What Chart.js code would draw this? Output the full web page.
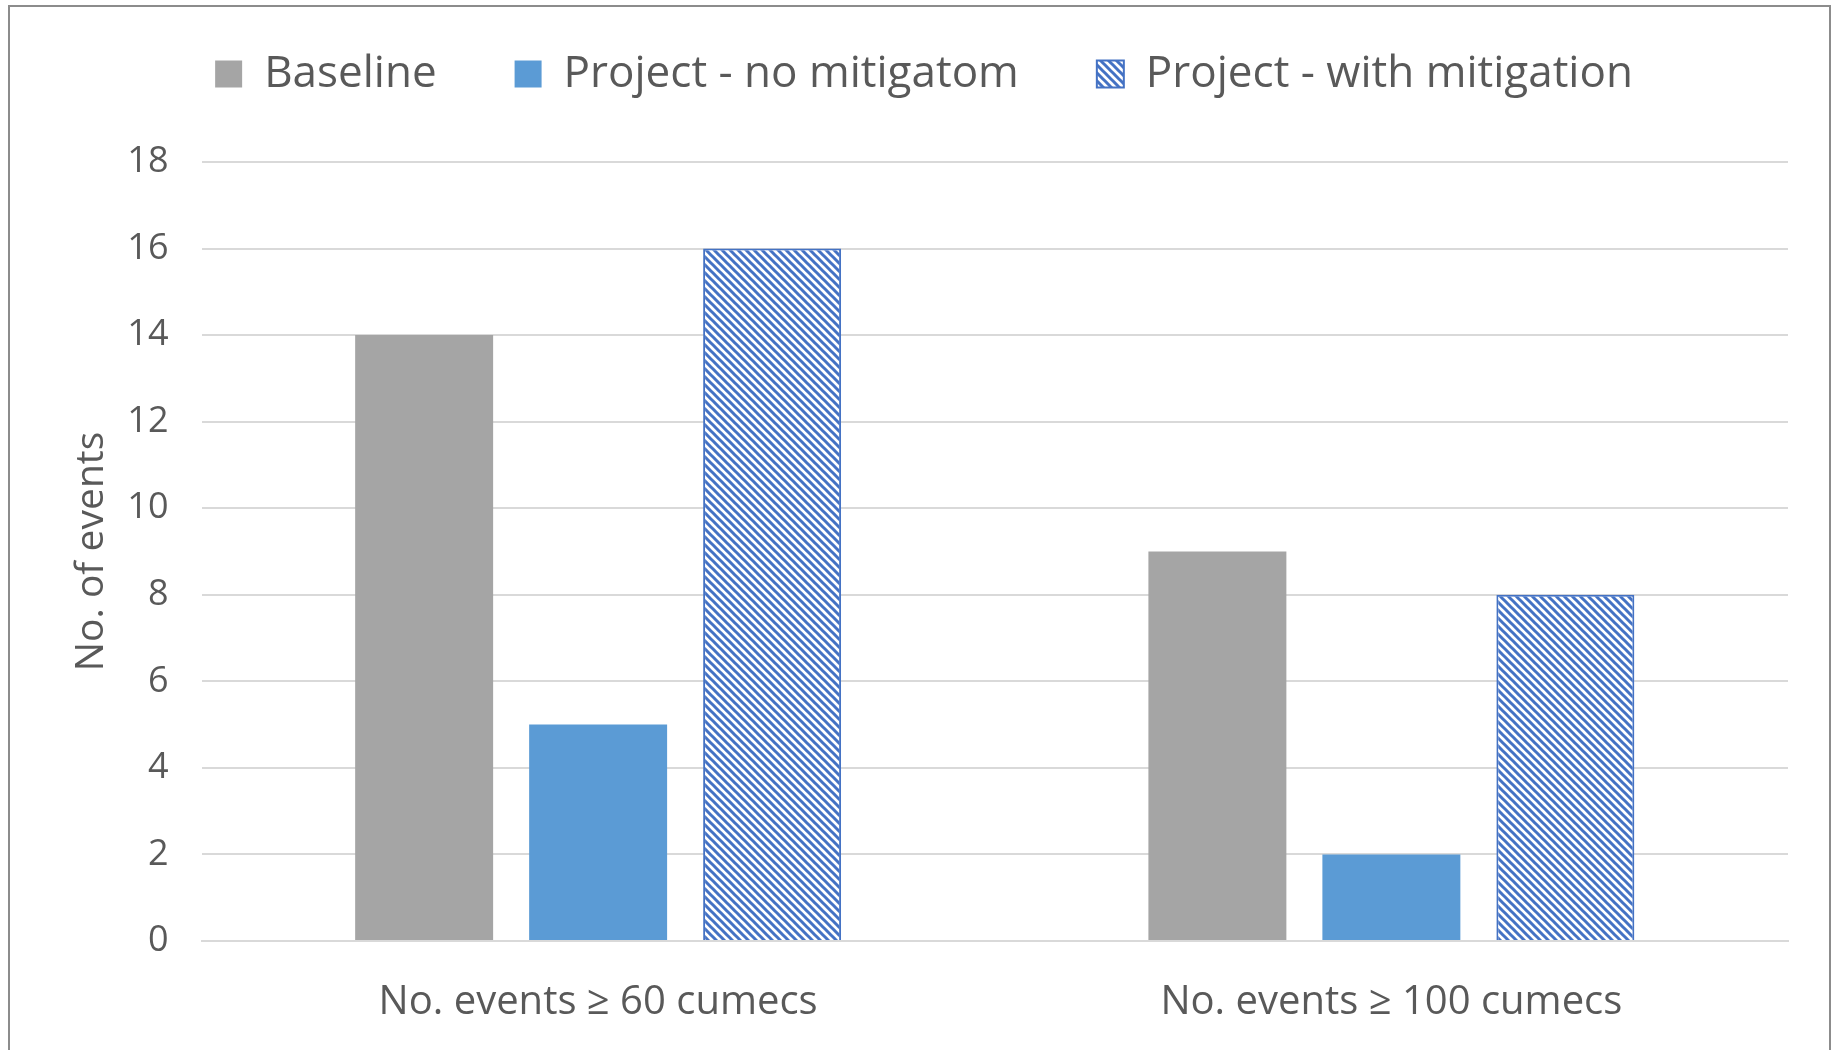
<!DOCTYPE html>
<html>
<head>
<meta charset="utf-8">
<script src="https://cdn.jsdelivr.net/npm/chart.js@4/dist/chart.umd.min.js"></script>
<style>
  html, body { margin: 0; padding: 0; background: #ffffff; }
  body { width: 1837px; height: 1050px; position: relative; overflow: hidden; }
  #frame { position: absolute; left: 8px; top: 5px; width: 1823px; height: 1100px; border: 2px solid #8c8c8c; box-sizing: border-box; }
  #chart { position: absolute; left: 0; top: 0; }
</style>
</head>
<body>
<div id="frame"></div>
<canvas id="chart" width="1837" height="1050"></canvas>
<script>
// Flood event counts per threshold
const categories = ['No. events \u2265 60 cumecs', 'No. events \u2265 100 cumecs'];
const seriesNames = ['Baseline', 'Project - no mitigatom', 'Project - with mitigation'];
const baseline = [14, 9];
const projectNoMitigation = [5, 2];
const projectWithMitigation = [16, 8];
const yTicks = [0, 2, 4, 6, 8, 10, 12, 14, 16, 18];

const textColor = '#595959';
const fontFamily = "'Open Sans', 'Liberation Sans', sans-serif";

// Wide downward diagonal hatch for the mitigation series
function makeHatch() {
  const s = 8;
  const c = document.createElement('canvas');
  c.width = s; c.height = s;
  const g = c.getContext('2d');
  g.fillStyle = '#ffffff';
  g.fillRect(0, 0, s, s);
  g.strokeStyle = '#4472C4';
  g.lineWidth = 3;
  g.beginPath();
  g.moveTo(-2, -2); g.lineTo(s + 2, s + 2);
  g.moveTo(-2 - s, -2); g.lineTo(2, s + 2);
  g.moveTo(s - 2, -2); g.lineTo(2 * s + 2, s + 2);
  g.stroke();
  return g.createPattern(c, 'repeat');
}

// Leaves extra room between the legend row and the plot area
const legendGap = {
  id: 'legendGap',
  beforeUpdate(chart) {
    const lg = chart.legend;
    if (!lg || lg._gapPatched) return;
    const fit = lg.fit;
    lg.fit = function () { fit.call(this); this.height += 56; };
    lg._gapPatched = true;
  }
};

const ctx = document.getElementById('chart').getContext('2d');
const hatch = makeHatch();

new Chart(ctx, {
  type: 'bar',
  data: {
    labels: categories,
    datasets: [
      { label: seriesNames[0], data: baseline, backgroundColor: '#A5A5A5', borderWidth: 0 },
      { label: seriesNames[1], data: projectNoMitigation, backgroundColor: '#5B9BD5', borderWidth: 0 },
      { label: seriesNames[2], data: projectWithMitigation, backgroundColor: hatch, borderColor: '#4472C4', borderWidth: 2 }
    ]
  },
  plugins: [legendGap],
  options: {
    responsive: false,
    animation: false,
    devicePixelRatio: 1,
    layout: { padding: { left: 60, right: 49, top: -26, bottom: 23 } },
    datasets: { bar: { categoryPercentage: 0.658, barPercentage: 0.793 } },
    plugins: {
      legend: {
        position: 'top',
        align: 'center',
        labels: {
          color: textColor,
          font: { family: fontFamily, size: 44 },
          boxWidth: 27,
          boxHeight: 27,
          padding: 78
        }
      },
      tooltip: { enabled: false }
    },
    scales: {
      x: {
        afterFit: (axis) => { axis.height = 86; },
        grid: { display: false, drawTicks: false },
        border: { display: true, color: '#D9D9D9', width: 2 },
        ticks: { color: textColor, font: { family: fontFamily, size: 40 }, padding: 38 }
      },
      y: {
        min: 0,
        max: 18,
        afterBuildTicks: (axis) => { axis.ticks = yTicks.map(v => ({ value: v })); },
        afterFit: (axis) => { axis.width = 141.5; },
        grid: { color: '#D9D9D9', lineWidth: 2, drawTicks: false },
        border: { display: false },
        ticks: { color: textColor, font: { family: fontFamily, size: 36 }, padding: 33 },
        title: {
          display: true,
          text: 'No. of events',
          color: textColor,
          font: { family: fontFamily, size: 39 },
          padding: { top: 8, bottom: 0 }
        }
      }
    }
  }
});
</script>
</body>
</html>
